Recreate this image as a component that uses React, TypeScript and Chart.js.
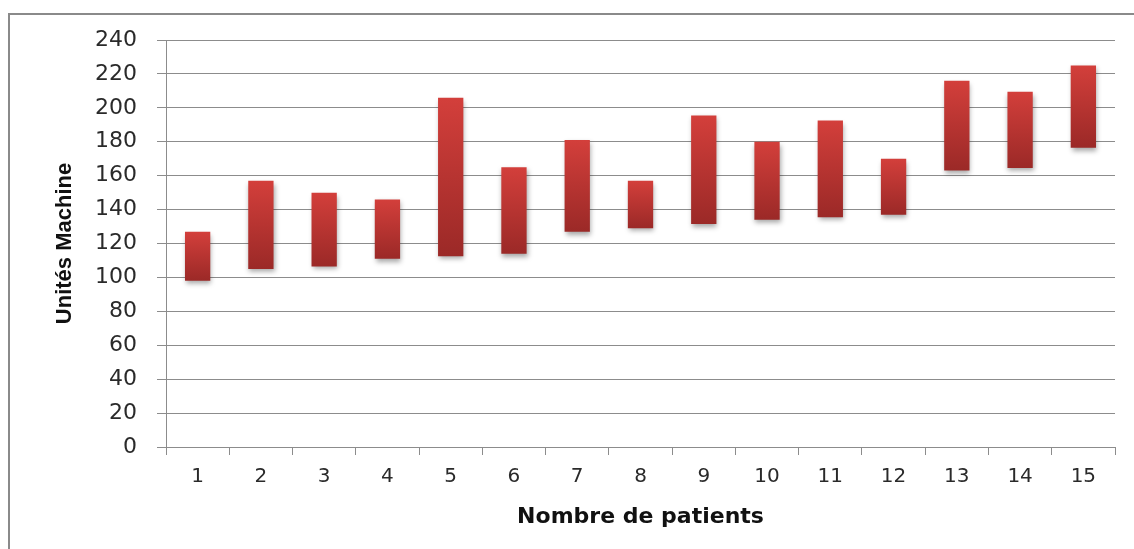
import React, { useEffect, useRef } from 'react';
import { Chart, registerables } from 'chart.js';

Chart.register(...registerables);

const patients = ['1', '2', '3', '4', '5', '6', '7', '8', '9', '10', '11', '12', '13', '14', '15'];
const lowValues = [98, 105, 106.5, 111, 112.5, 114, 127, 129, 131.5, 134, 135.5, 137, 163, 164.5, 176.5];
const highValues = [127, 157, 150, 146, 206, 165, 181, 157, 195.5, 180, 192.5, 170, 216, 209.5, 225];
const yMin = 0;
const yMax = 240;
const yStep = 20;
const yTitle = 'Unités Machine';
const xTitle = 'Nombre de patients';

const GRID = '#8c8c8c';
const TEXT = '#2a2a2a';

const shadowPlugin = {
  id: 'barShadow',
  beforeDatasetsDraw(chart: any) {
    const c = chart.ctx;
    c.save();
    c.shadowColor = 'rgba(0,0,0,0.35)';
    c.shadowBlur = 5;
    c.shadowOffsetX = 1;
    c.shadowOffsetY = 3;
  },
  afterDatasetsDraw(chart: any) {
    chart.ctx.restore();
  },
};

export default function App() {
  const ref = useRef<HTMLCanvasElement | null>(null);

  useEffect(() => {
    if (!ref.current) return;
    const chart = new Chart(ref.current, {
      type: 'bar',
      data: {
        labels: patients,
        datasets: [
          {
            data: patients.map((_, i) => [lowValues[i], highValues[i]]) as any,
            backgroundColor: (c: any) => {
              const ch = c.chart;
              const y = ch.scales && ch.scales.y;
              if (c.type !== 'data' || !y) return '#c23834';
              const top = y.getPixelForValue(highValues[c.dataIndex]);
              const bot = y.getPixelForValue(lowValues[c.dataIndex]);
              if (!isFinite(top) || !isFinite(bot)) return '#c23834';
              const g = ch.ctx.createLinearGradient(0, top, 0, bot);
              g.addColorStop(0, '#d33f3b');
              g.addColorStop(1, '#9b2927');
              return g;
            },
            borderWidth: 0,
            barPercentage: 0.4,
            categoryPercentage: 1,
          },
        ],
      },
      options: {
        responsive: false,
        animation: false,
        layout: { padding: { top: 40, right: 19, bottom: 0, left: 0 } },
        plugins: { legend: { display: false }, tooltip: { enabled: false } },
        scales: {
          x: {
            afterFit: (s: any) => { s.height = 102; },
            grid: {
              offset: true,
              drawOnChartArea: false,
              drawTicks: true,
              tickLength: 8,
              color: GRID,
            },
            border: { display: true, color: GRID, width: 1 },
            ticks: {
              padding: 10,
              color: TEXT,
              font: { family: 'DejaVu Sans', size: 20 },
            },
            title: {
              display: true,
              text: xTitle,
              color: '#111',
              font: { family: 'DejaVu Sans', size: 22, weight: 'bold' },
              padding: { top: 0, bottom: 19 },
            },
          },
          y: {
            min: yMin,
            max: yMax,
            afterFit: (s: any) => { s.width = 166; },
            grid: {
              drawTicks: true,
              tickLength: 9,
              color: GRID,
            },
            border: { display: true, color: GRID, width: 1 },
            ticks: {
              stepSize: yStep,
              padding: 20,
              color: TEXT,
              font: { family: 'DejaVu Sans', size: 22 },
            },
            title: {
              display: true,
              text: yTitle,
              color: '#111',
              font: { family: 'Liberation Sans', size: 22, weight: 'bold' },
              padding: { top: 52, bottom: 0 },
            },
          },
        },
      },
      plugins: [shadowPlugin],
    });
    return () => chart.destroy();
  }, []);

  return (
    <>
      <div
        style={{
          position: 'absolute',
          left: 8,
          top: 13,
          width: 1126,
          height: 536,
          boxSizing: 'border-box',
          borderTop: '2px solid #8a8a8a',
          borderLeft: '2px solid #8a8a8a',
        }}
      />
      <canvas
        ref={ref}
        width={1134}
        height={549}
        style={{ position: 'absolute', left: 0, top: 0, display: 'block' }}
      />
    </>
  );
}
